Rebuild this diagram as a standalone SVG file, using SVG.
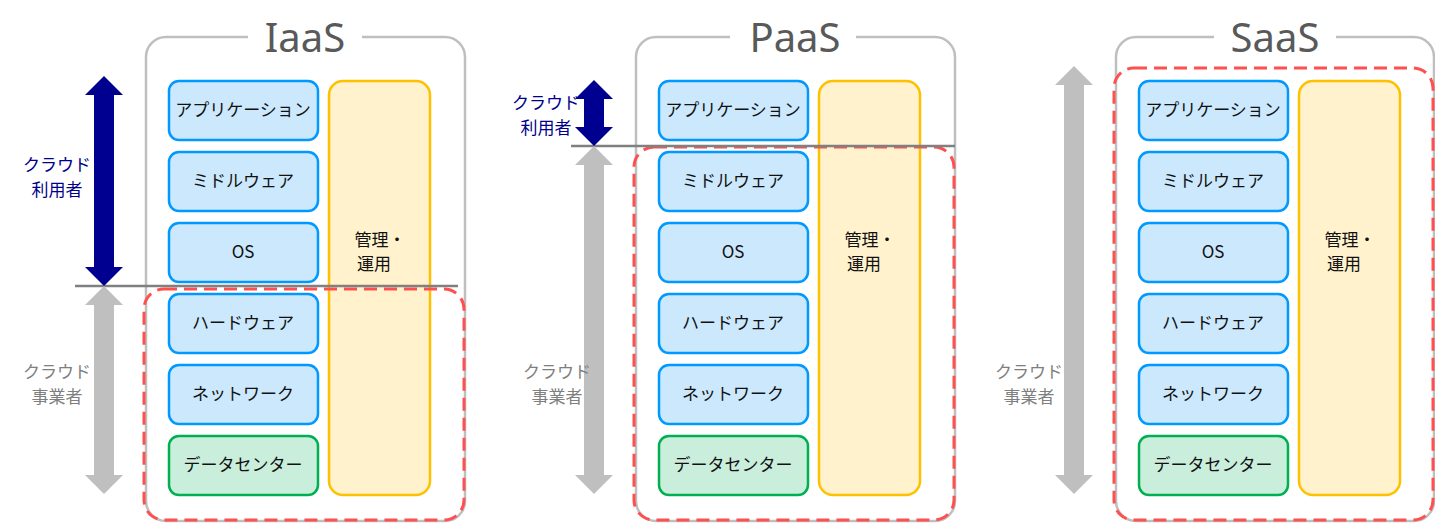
<svg xmlns="http://www.w3.org/2000/svg" width="1435" height="524" viewBox="0 0 1435 524">
<defs>
<style>
text{font-family:"Noto Sans CJK JP","Noto Sans",sans-serif;text-anchor:middle}
.outer{fill:#fff;stroke:#bfbfbf;stroke-width:2.5}
.title{font-size:40px;fill:#595959;font-family:"Noto Sans","DejaVu Sans",sans-serif}
.layer{fill:#cce8fc;stroke:#0099ff;stroke-width:2.5}
.dc{fill:#c9eedb;stroke:#00b050;stroke-width:2.5}
.mg{fill:#fff2cc;stroke:#ffc000;stroke-width:2.5}
.lt{font-size:17px;fill:#111}
.dash{fill:none;stroke:#ff5050;stroke-width:3;stroke-dasharray:13 7}
.div{stroke:#808080;stroke-width:2.5}
.ua{fill:#000090}
.pa{fill:#bfbfbf}
.ul{font-size:17px;fill:#00008b}
.pl{font-size:17px;fill:#7f7f7f}
</style>
<g id="stack">
<rect class="layer" x="0" y="0" width="149" height="59" rx="10"/>
</g>
</defs>
<g id="iaas">
<rect class="outer" x="146" y="37" width="319" height="484" rx="20"/>
<rect x="248" y="20" width="114" height="34" fill="#fff"/>
<text class="title" x="305" y="52">IaaS</text>
<rect class="layer" x="169" y="81" width="149" height="59" rx="10"/><text class="lt" x="243" y="116">アプリケーション</text>
<rect class="layer" x="169" y="152" width="149" height="59" rx="10"/><text class="lt" x="243" y="187">ミドルウェア</text>
<rect class="layer" x="169" y="223" width="149" height="59" rx="10"/><text class="lt" x="243" y="258">OS</text>
<rect class="layer" x="169" y="294" width="149" height="59" rx="10"/><text class="lt" x="243" y="329">ハードウェア</text>
<rect class="layer" x="169" y="365" width="149" height="59" rx="10"/><text class="lt" x="243" y="400">ネットワーク</text>
<rect class="dc" x="169" y="436" width="149" height="59" rx="10"/><text class="lt" x="243" y="471">データセンター</text>
<rect class="mg" x="329" y="81" width="101" height="414" rx="14"/><text class="lt" x="380" y="246">管理・</text><text class="lt" x="374" y="270">運用</text>
<rect class="dash" x="144" y="289" width="320" height="231" rx="20"/>
</g>
<g id="paas">
<rect class="outer" x="636" y="37" width="319" height="484" rx="20"/>
<rect x="730" y="20" width="126" height="34" fill="#fff"/>
<text class="title" x="795" y="52">PaaS</text>
<rect class="layer" x="659" y="81" width="149" height="59" rx="10"/><text class="lt" x="733" y="116">アプリケーション</text>
<rect class="layer" x="659" y="152" width="149" height="59" rx="10"/><text class="lt" x="733" y="187">ミドルウェア</text>
<rect class="layer" x="659" y="223" width="149" height="59" rx="10"/><text class="lt" x="733" y="258">OS</text>
<rect class="layer" x="659" y="294" width="149" height="59" rx="10"/><text class="lt" x="733" y="329">ハードウェア</text>
<rect class="layer" x="659" y="365" width="149" height="59" rx="10"/><text class="lt" x="733" y="400">ネットワーク</text>
<rect class="dc" x="659" y="436" width="149" height="59" rx="10"/><text class="lt" x="733" y="471">データセンター</text>
<rect class="mg" x="819" y="81" width="101" height="414" rx="14"/><text class="lt" x="870" y="246">管理・</text><text class="lt" x="864" y="270">運用</text>
<rect class="dash" x="634" y="147" width="320" height="373" rx="20"/>
</g>
<g id="saas">
<rect class="outer" x="1116" y="37" width="318" height="484" rx="20"/>
<rect x="1214" y="20" width="122" height="34" fill="#fff"/>
<text class="title" x="1275" y="52">SaaS</text>
<rect class="layer" x="1139" y="81" width="149" height="59" rx="10"/><text class="lt" x="1213" y="116">アプリケーション</text>
<rect class="layer" x="1139" y="152" width="149" height="59" rx="10"/><text class="lt" x="1213" y="187">ミドルウェア</text>
<rect class="layer" x="1139" y="223" width="149" height="59" rx="10"/><text class="lt" x="1213" y="258">OS</text>
<rect class="layer" x="1139" y="294" width="149" height="59" rx="10"/><text class="lt" x="1213" y="329">ハードウェア</text>
<rect class="layer" x="1139" y="365" width="149" height="59" rx="10"/><text class="lt" x="1213" y="400">ネットワーク</text>
<rect class="dc" x="1139" y="436" width="149" height="59" rx="10"/><text class="lt" x="1213" y="471">データセンター</text>
<rect class="mg" x="1299" y="81" width="101" height="414" rx="14"/><text class="lt" x="1350" y="246">管理・</text><text class="lt" x="1344" y="270">運用</text>
<rect class="dash" x="1114" y="68" width="319" height="452" rx="20"/>
</g>
<g id="connectors">
<line class="div" x1="75" y1="286" x2="458" y2="286"/>
<path class="ua" d="M104 76 L123 95 L114 95 L114 267 L123 267 L104 286 L85 267 L94 267 L94 95 L85 95 Z"/>
<path class="pa" d="M104 286 L123 305 L114 305 L114 475 L123 475 L104 494 L85 475 L94 475 L94 305 L85 305 Z"/>
<line class="div" x1="571" y1="146" x2="955" y2="146"/>
<path class="ua" d="M594 80 L613 99 L604 99 L604 127 L613 127 L594 146 L575 127 L584 127 L584 99 L575 99 Z"/>
<path class="pa" d="M594 146 L613 165 L604 165 L604 475 L613 475 L594 494 L575 475 L584 475 L584 165 L575 165 Z"/>
<path class="pa" d="M1074 66 L1093 85 L1084 85 L1084 475 L1093 475 L1074 494 L1055 475 L1064 475 L1064 85 L1055 85 Z"/>
</g>
<g id="labels">
<text class="ul" x="57" y="171">クラウド</text><text class="ul" x="57" y="196">利用者</text>
<text class="pl" x="57" y="378">クラウド</text><text class="pl" x="57" y="403">事業者</text>
<text class="ul" x="546" y="109">クラウド</text><text class="ul" x="546" y="134">利用者</text>
<text class="pl" x="557" y="378">クラウド</text><text class="pl" x="557" y="403">事業者</text>
<text class="pl" x="1029" y="378">クラウド</text><text class="pl" x="1029" y="403">事業者</text>
</g>
</svg>
